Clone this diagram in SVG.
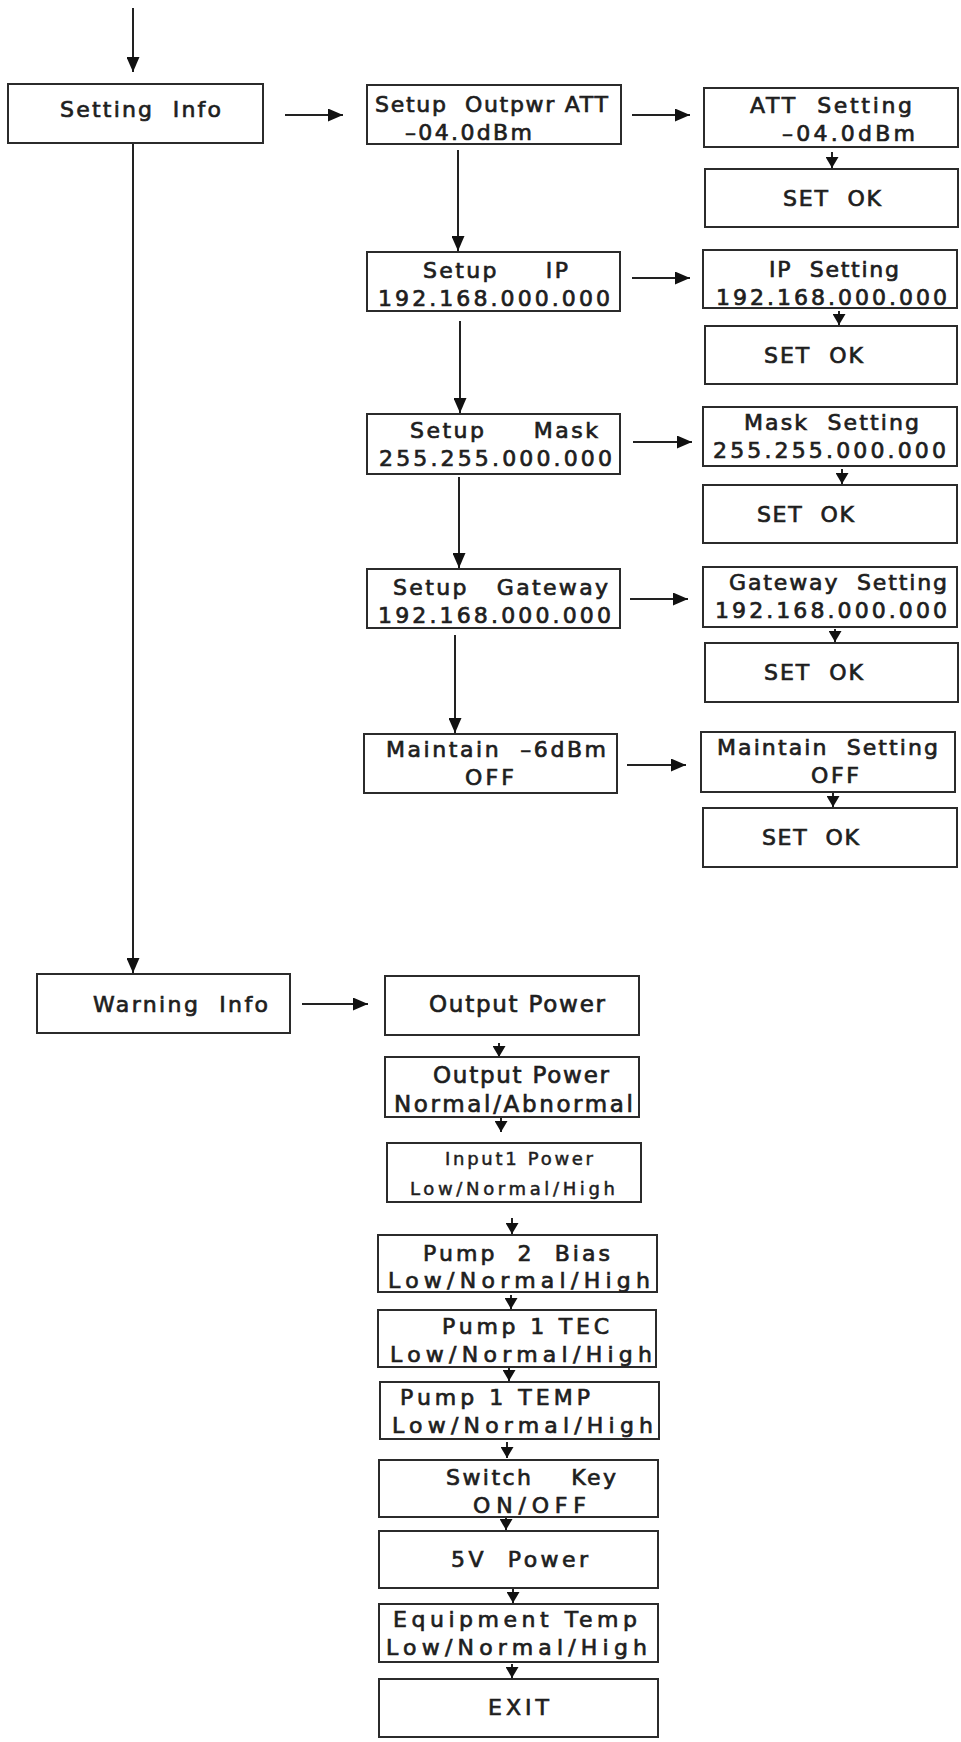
<svg xmlns="http://www.w3.org/2000/svg" width="961" height="1742" viewBox="0 0 961 1742">
<style>
.b{fill:#fff;stroke:#2b2b2b;stroke-width:2}
.t{font-family:"DejaVu Sans","Liberation Sans",sans-serif;font-size:22px;fill:#1e1e1e;stroke:#1e1e1e;stroke-width:0.7;white-space:pre}
.s{font-size:18px;stroke-width:0.5}
.l{fill:none;stroke:#222;stroke-width:2}
</style>
<defs>
<marker id="ah" markerUnits="userSpaceOnUse" markerWidth="15" markerHeight="13" refX="15" refY="6.5" orient="auto"><path d="M0,0 L15,6.5 L0,13 z" fill="#111"/></marker>
<marker id="as" markerUnits="userSpaceOnUse" markerWidth="12" markerHeight="13" refX="11" refY="6.5" orient="auto"><path d="M0,0 L11,6.5 L0,13 z" fill="#111"/></marker>
</defs>
<rect width="961" height="1742" fill="#fff"/>
<g id="connectors">
<line class="l" x1="133" y1="8" x2="133" y2="72" marker-end="url(#ah)"/>
<line class="l" x1="285" y1="115" x2="343" y2="115" marker-end="url(#ah)"/>
<line class="l" x1="133" y1="143" x2="133" y2="973" marker-end="url(#ah)"/>
<line class="l" x1="302" y1="1004" x2="368" y2="1004" marker-end="url(#ah)"/>
<line class="l" x1="458" y1="150" x2="458" y2="251" marker-end="url(#ah)"/>
<line class="l" x1="460" y1="321" x2="460" y2="413" marker-end="url(#ah)"/>
<line class="l" x1="459" y1="477" x2="459" y2="568" marker-end="url(#ah)"/>
<line class="l" x1="455" y1="635" x2="455" y2="733" marker-end="url(#ah)"/>
<line class="l" x1="632" y1="115" x2="690" y2="115" marker-end="url(#ah)"/>
<line class="l" x1="632" y1="278" x2="690" y2="278" marker-end="url(#ah)"/>
<line class="l" x1="633" y1="442" x2="692" y2="442" marker-end="url(#ah)"/>
<line class="l" x1="630" y1="599" x2="688" y2="599" marker-end="url(#ah)"/>
<line class="l" x1="627" y1="765" x2="686" y2="765" marker-end="url(#ah)"/>
<line class="l" x1="832" y1="152" x2="832" y2="168" marker-end="url(#as)"/>
<line class="l" x1="839" y1="311" x2="839" y2="325" marker-end="url(#as)"/>
<line class="l" x1="842" y1="469" x2="842" y2="484" marker-end="url(#as)"/>
<line class="l" x1="835" y1="629" x2="835" y2="642" marker-end="url(#as)"/>
<line class="l" x1="833" y1="793" x2="833" y2="807" marker-end="url(#as)"/>
<line class="l" x1="499" y1="1043" x2="499" y2="1057" marker-end="url(#as)"/>
<line class="l" x1="501" y1="1118" x2="501" y2="1132" marker-end="url(#as)"/>
<line class="l" x1="512" y1="1218" x2="512" y2="1234" marker-end="url(#as)"/>
<line class="l" x1="511" y1="1295" x2="511" y2="1309" marker-end="url(#as)"/>
<line class="l" x1="509" y1="1368" x2="509" y2="1381" marker-end="url(#as)"/>
<line class="l" x1="507" y1="1442" x2="507" y2="1458" marker-end="url(#as)"/>
<line class="l" x1="506" y1="1518" x2="506" y2="1530" marker-end="url(#as)"/>
<line class="l" x1="513" y1="1589" x2="513" y2="1603" marker-end="url(#as)"/>
<line class="l" x1="512" y1="1664" x2="512" y2="1678" marker-end="url(#as)"/>
</g>
<g id="setting-info"><rect class="b" x="8" y="84" width="255" height="59"/><text class="t" x="60" y="117" textLength="161" lengthAdjust="spacing">Setting  Info</text></g>
<g id="setup-outpwr"><rect class="b" x="367" y="85" width="254" height="59"/><text class="t" x="375" y="112" textLength="233" lengthAdjust="spacing">Setup  Outpwr ATT</text><text class="t" x="405" y="140" textLength="127" lengthAdjust="spacing">–04.0dBm</text></g>
<g id="att-setting"><rect class="b" x="704" y="88" width="254" height="59"/><text class="t" x="750" y="113" textLength="162" lengthAdjust="spacing">ATT  Setting</text><text class="t" x="782" y="141" textLength="133" lengthAdjust="spacing">–04.0dBm</text></g>
<g id="att-ok"><rect class="b" x="705" y="169" width="253" height="58"/><text class="t" x="783" y="206" textLength="98" lengthAdjust="spacing">SET  OK</text></g>
<g id="setup-ip"><rect class="b" x="367" y="252" width="253" height="59"/><text class="t" x="423" y="278" textLength="145" lengthAdjust="spacing">Setup     IP</text><text class="t" x="378" y="306" textLength="232" lengthAdjust="spacing">192.168.000.000</text></g>
<g id="ip-setting"><rect class="b" x="703" y="250" width="254" height="58"/><text class="t" x="769" y="277" textLength="130" lengthAdjust="spacing">IP  Setting</text><text class="t" x="716" y="305" textLength="231" lengthAdjust="spacing">192.168.000.000</text></g>
<g id="ip-ok"><rect class="b" x="705" y="326" width="252" height="58"/><text class="t" x="764" y="363" textLength="99" lengthAdjust="spacing">SET  OK</text></g>
<g id="setup-mask"><rect class="b" x="367" y="414" width="253" height="60"/><text class="t" x="410" y="438" textLength="188" lengthAdjust="spacing">Setup     Mask</text><text class="t" x="379" y="466" textLength="233" lengthAdjust="spacing">255.255.000.000</text></g>
<g id="mask-setting"><rect class="b" x="703" y="407" width="254" height="59"/><text class="t" x="744" y="430" textLength="175" lengthAdjust="spacing">Mask  Setting</text><text class="t" x="713" y="458" textLength="233" lengthAdjust="spacing">255.255.000.000</text></g>
<g id="mask-ok"><rect class="b" x="703" y="485" width="254" height="58"/><text class="t" x="757" y="522" textLength="97" lengthAdjust="spacing">SET  OK</text></g>
<g id="setup-gateway"><rect class="b" x="367" y="569" width="253" height="59"/><text class="t" x="393" y="595" textLength="215" lengthAdjust="spacing">Setup   Gateway</text><text class="t" x="378" y="623" textLength="233" lengthAdjust="spacing">192.168.000.000</text></g>
<g id="gateway-setting"><rect class="b" x="703" y="567" width="254" height="60"/><text class="t" x="729" y="590" textLength="218" lengthAdjust="spacing">Gateway  Setting</text><text class="t" x="715" y="618" textLength="232" lengthAdjust="spacing">192.168.000.000</text></g>
<g id="gateway-ok"><rect class="b" x="705" y="643" width="253" height="59"/><text class="t" x="764" y="680" textLength="99" lengthAdjust="spacing">SET  OK</text></g>
<g id="maintain"><rect class="b" x="364" y="734" width="253" height="59"/><text class="t" x="386" y="757" textLength="220" lengthAdjust="spacing">Maintain  –6dBm</text><text class="t" x="465" y="785" textLength="49" lengthAdjust="spacing">OFF</text></g>
<g id="maintain-setting"><rect class="b" x="701" y="732" width="254" height="60"/><text class="t" x="717" y="755" textLength="221" lengthAdjust="spacing">Maintain  Setting</text><text class="t" x="811" y="783" textLength="48" lengthAdjust="spacing">OFF</text></g>
<g id="maintain-ok"><rect class="b" x="703" y="808" width="254" height="59"/><text class="t" x="762" y="845" textLength="97" lengthAdjust="spacing">SET  OK</text></g>
<g id="warning-info"><rect class="b" x="37" y="974" width="253" height="59"/><text class="t" x="93" y="1012" textLength="175" lengthAdjust="spacing">Warning  Info</text></g>
<g id="output-power"><rect class="b" x="385" y="976" width="254" height="59"/><text class="t" x="429" y="1012" textLength="176" lengthAdjust="spacing" style="font-size:23px">Output Power</text></g>
<g id="output-power-state"><rect class="b" x="385" y="1057" width="254" height="60"/><text class="t" x="433" y="1083" textLength="176" lengthAdjust="spacing" style="font-size:23px">Output Power</text><text class="t" x="394" y="1112" textLength="239" lengthAdjust="spacing" style="font-size:23px">Normal/Abnormal</text></g>
<g id="input1-power"><rect class="b" x="387" y="1143" width="254" height="59"/><text class="t s" x="445" y="1165" textLength="148" lengthAdjust="spacing">Input1 Power</text><text class="t s" x="410" y="1195" textLength="205" lengthAdjust="spacing">Low/Normal/High</text></g>
<g id="pump2-bias"><rect class="b" x="378" y="1235" width="279" height="57"/><text class="t" x="423" y="1261" textLength="187" lengthAdjust="spacing">Pump  2  Bias</text><text class="t" x="388" y="1288" textLength="262" lengthAdjust="spacing">Low/Normal/High</text></g>
<g id="pump1-tec"><rect class="b" x="378" y="1310" width="278" height="57"/><text class="t" x="442" y="1334" textLength="167" lengthAdjust="spacing">Pump 1 TEC</text><text class="t" x="390" y="1362" textLength="262" lengthAdjust="spacing">Low/Normal/High</text></g>
<g id="pump1-temp"><rect class="b" x="380" y="1382" width="279" height="57"/><text class="t" x="400" y="1405" textLength="190" lengthAdjust="spacing">Pump 1 TEMP</text><text class="t" x="392" y="1433" textLength="261" lengthAdjust="spacing">Low/Normal/High</text></g>
<g id="switch-key"><rect class="b" x="379" y="1460" width="279" height="57"/><text class="t" x="446" y="1485" textLength="170" lengthAdjust="spacing">Switch    Key</text><text class="t" x="473" y="1513" textLength="113" lengthAdjust="spacing">ON/OFF</text></g>
<g id="power-5v"><rect class="b" x="379" y="1531" width="279" height="57"/><text class="t" x="451" y="1567" textLength="137" lengthAdjust="spacing">5V  Power</text></g>
<g id="equipment-temp"><rect class="b" x="379" y="1604" width="279" height="58"/><text class="t" x="393" y="1627" textLength="244" lengthAdjust="spacing">Equipment Temp</text><text class="t" x="386" y="1655" textLength="261" lengthAdjust="spacing">Low/Normal/High</text></g>
<g id="exit"><rect class="b" x="379" y="1679" width="279" height="58"/><text class="t" x="488" y="1715" textLength="61" lengthAdjust="spacing">EXIT</text></g>
</svg>
